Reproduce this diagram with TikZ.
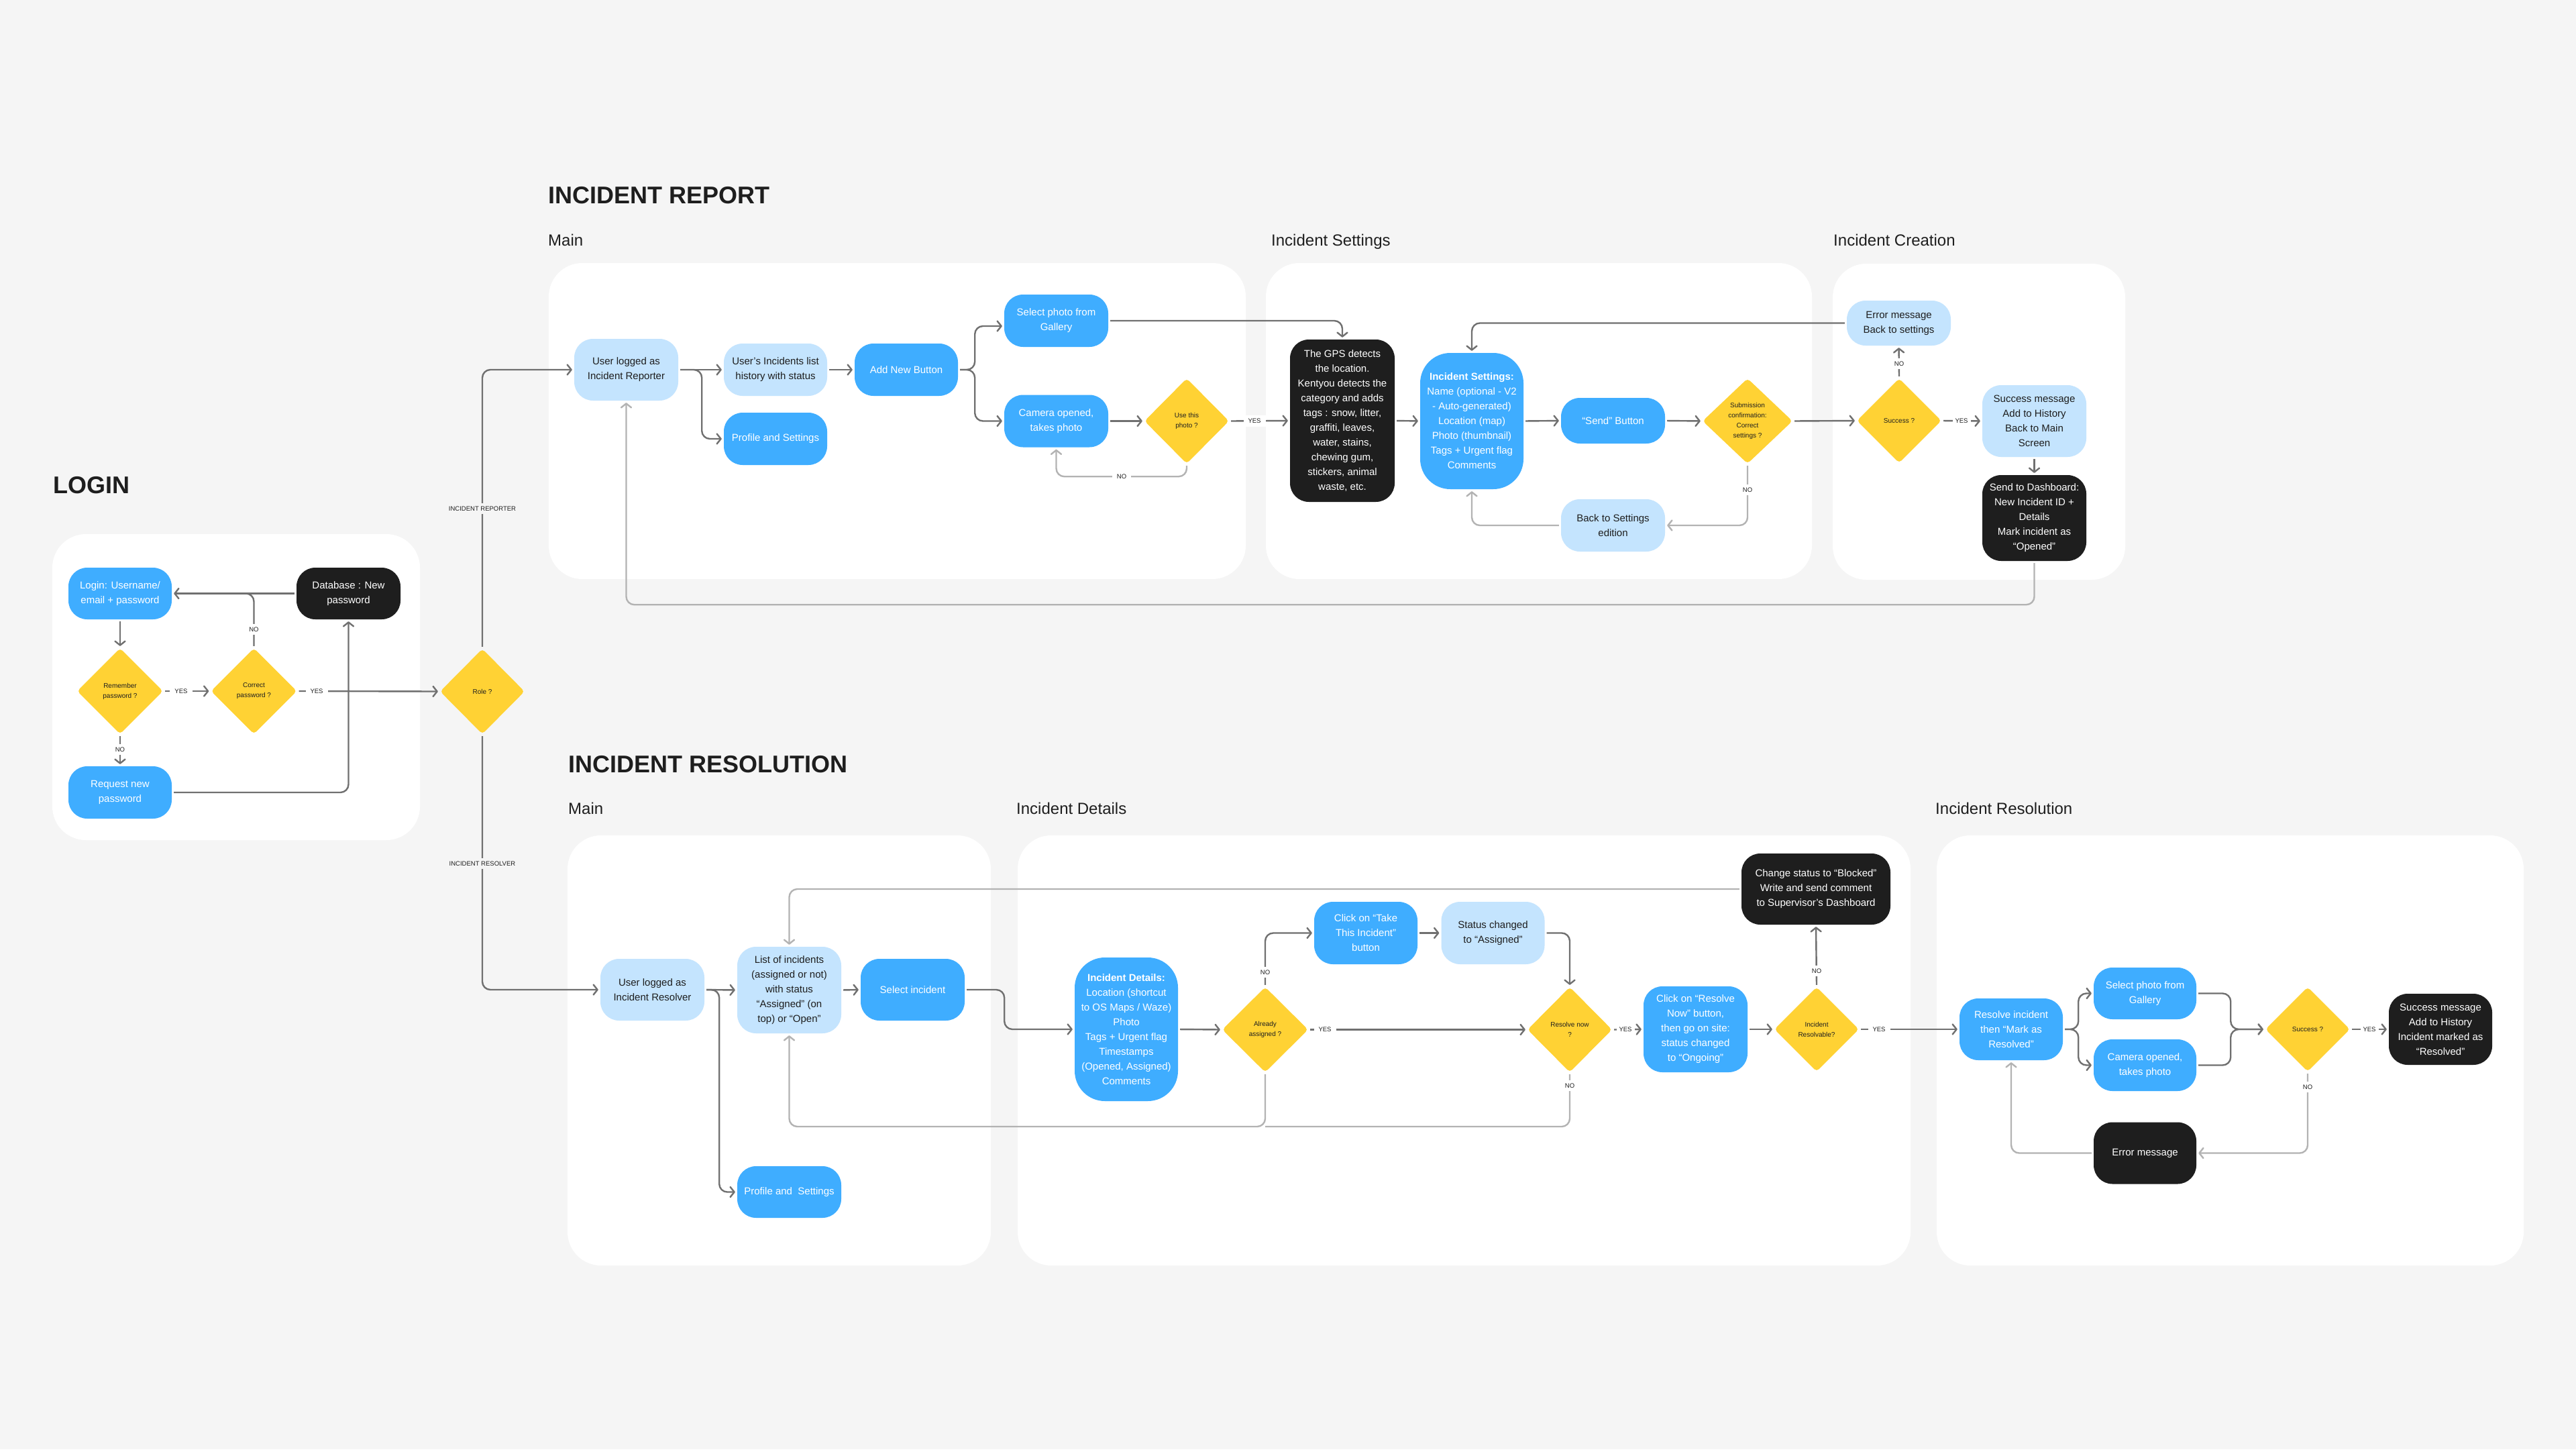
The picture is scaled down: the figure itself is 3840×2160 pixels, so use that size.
\documentclass[tikz,border=0pt]{standalone}
\usepackage{fontspec}
\setmainfont{Liberation Sans}
\usetikzlibrary{arrows.meta,shapes.geometric}
\definecolor{bg}{HTML}{F5F5F5}
\definecolor{cblue}{HTML}{3FADFF}
\definecolor{clight}{HTML}{C4E4FE}
\definecolor{cblack}{HTML}{1E1E1E}
\definecolor{cyellow}{HTML}{FFD234}
\definecolor{cdark}{HTML}{707070}
\definecolor{clite}{HTML}{B3B3B3}
\definecolor{ctext}{HTML}{1E1E1E}
\tikzset{
  box/.style={rounded corners=28pt, minimum width=155pt, minimum height=78pt, align=center, inner sep=3pt, font=\fontsize{15}{22}\selectfont},
  bbox/.style={box, fill=cblue, text=white},
  lbox/.style={box, fill=clight, text=ctext},
  kbox/.style={box, fill=cblack, text=white},
  dec/.style={diamond, fill=cyellow, minimum width=128pt, minimum height=128pt, inner sep=0pt, align=center, text=ctext, font=\fontsize{10}{15}\selectfont, rounded corners=5pt},
  arr/.style={draw=cdark, line width=2.4pt, rounded corners=12pt, -{Straight Barb[length=6pt,width=15pt,round]}, shorten >=3pt, shorten <=3pt},
  arrL/.style={arr, draw=clite},
  ln/.style={draw=cdark, line width=2.4pt, rounded corners=12pt, shorten <=3pt},
  lnL/.style={ln, draw=clite},
  lbl/.style={fill=white, inner xsep=7pt, inner ysep=5pt, text=ctext, font=\fontsize{9.5}{9.5}\selectfont},
  lblb/.style={lbl, fill=bg},
  ttl/.style={anchor=base west, inner sep=0pt, font=\fontsize{36}{36}\selectfont\bfseries, text=ctext},
  subttl/.style={anchor=base west, inner sep=0pt, font=\fontsize{24}{24}\selectfont, text=ctext},
  panel/.style={fill=white, rounded corners=50pt}
}
\begin{document}
\begin{tikzpicture}[x=1pt,y=-1pt]
\useasboundingbox (0,0) rectangle (3840,2160);
\fill[bg] (0,0) rectangle (3840,2160);

% panels
\fill[panel] (78,796) rectangle (626,1252);
\fill[panel] (818,392) rectangle (1857,863);
\fill[panel] (1887,392) rectangle (2701,863);
\fill[panel] (2732,393) rectangle (3168,864);
\fill[panel] (846,1245) rectangle (1477,1886);
\fill[panel] (1517,1245) rectangle (2848,1886);
\fill[panel] (2887,1245) rectangle (3762,1886);

% titles
\node[ttl] (tlogin) at (79,735) {LOGIN};
\node[ttl] (trep) at (817,303) {INCIDENT REPORT};
\node[subttl] (trep1) at (817,366) {Main};
\node[subttl] (trep2) at (1895,366) {Incident Settings};
\node[subttl] (trep3) at (2733,366) {Incident Creation};
\node[ttl] (tres) at (847,1151) {INCIDENT RESOLUTION};
\node[subttl] (tres1) at (847,1213) {Main};
\node[subttl] (tres2) at (1515,1213) {Incident Details};
\node[subttl] (tres3) at (2885,1213) {Incident Resolution};

% LOGIN
\node[bbox, minimum width=154pt, minimum height=77pt] (login) at (179,884.5) {Login: Username/\\email + password};
\node[kbox, minimum height=77pt] (db) at (519.5,884.5) {Database : New\\password};
\node[dec] (rem) at (179,1030) {Remember\\password ?};
\node[dec] (cor) at (378.5,1030) {Correct\\password ?};
\node[bbox, minimum width=154pt] (req) at (179,1181) {Request new\\password};
\node[dec, minimum width=126pt, minimum height=127pt] (role) at (719,1030.5) {Role ?};

% INCIDENT REPORT - Main
\node[lbox, minimum height=92pt] (urep) at (933.5,551) {User logged as\\Incident Reporter};
\node[lbox, minimum width=154pt] (hist) at (1156,551) {User’s Incidents list\\history with status};
\node[bbox, minimum width=154pt] (addb) at (1351,551) {Add New Button};
\node[bbox, minimum width=154pt] (prof1) at (1156,654) {Profile and Settings};
\node[bbox] (gal1) at (1574.5,478) {Select photo from\\Gallery};
\node[bbox] (cam1) at (1574.5,627.5) {Camera opened,\\takes photo};
\node[dec, minimum width=126pt, minimum height=127pt] (use) at (1769,627.5) {Use this\\photo ?};

% Incident Settings
\node[kbox, minimum width=156pt, minimum height=242pt] (gps) at (2001,627) {The GPS detects\\the location.\\Kentyou detects the\\category and adds\\tags : snow, litter,\\graffiti, leaves,\\water, stains,\\chewing gum,\\stickers, animal\\waste, etc.};
\node[bbox, rounded corners=45pt, minimum width=154pt, minimum height=203pt] (iset) at (2194,627.5) {\textbf{Incident Settings:}\\Name (optional - V2\\- Auto-generated)\\Location (map)\\Photo (thumbnail)\\Tags + Urgent flag\\Comments};
\node[bbox, minimum height=68pt] (send) at (2404.5,627) {“Send” Button};
\node[dec, minimum width=134pt, minimum height=127pt] (sub) at (2605,627.5) {Submission\\confirmation:\\Correct\\settings ?};
\node[lbox] (back) at (2404.5,783) {Back to Settings\\edition};

% Incident Creation
\node[lbox, minimum height=67pt] (err1) at (2830.5,481.5) {Error message\\Back to settings};
\node[dec, minimum width=126pt, minimum height=126pt] (succ1) at (2831,627) {Success ?};
\node[lbox, minimum height=107pt] (smsg) at (3032.5,627.5) {Success message\\Add to History\\Back to Main\\Screen};
\node[kbox, minimum height=128pt] (dash) at (3032.5,772) {Send to Dashboard:\\New Incident ID +\\Details\\Mark incident as\\“Opened”};

% INCIDENT RESOLUTION - Main
\node[lbox, minimum height=92pt] (ures) at (972.5,1475) {User logged as\\Incident Resolver};
\node[lbox, minimum height=129pt] (list) at (1176.5,1475.5) {List of incidents\\(assigned or not)\\with status\\“Assigned” (on\\top) or “Open”};
\node[bbox, minimum height=92pt] (sel) at (1360.5,1475) {Select incident};
\node[bbox, minimum height=77pt] (prof2) at (1176.5,1776.5) {Profile and\ \ Settings};

% Incident Details
\node[bbox, rounded corners=45pt, minimum width=154pt, minimum height=214pt] (idet) at (1679,1534) {\textbf{Incident Details:}\\Location (shortcut\\to OS Maps / Waze)\\Photo\\Tags + Urgent flag\\Timestamps\\(Opened, Assigned)\\Comments};
\node[dec, minimum height=127pt] (alr) at (1886,1534.5) {Already\\assigned ?};
\node[bbox, minimum width=154pt, minimum height=93pt] (take) at (2036,1390.5) {Click on “Take\\This Incident”\\button};
\node[lbox, minimum width=154pt, minimum height=93pt] (stat) at (2225.5,1390.5) {Status changed\\to “Assigned”};
\node[dec, minimum width=126pt, minimum height=127pt] (rnow) at (2340,1534.5) {Resolve now\\?};
\node[bbox, minimum height=128pt] (rbtn) at (2527.5,1534) {Click on “Resolve\\Now” button,\\then go on site:\\status changed\\to “Ongoing”};
\node[dec, minimum width=126pt, minimum height=126pt] (resv) at (2708,1534) {Incident\\Resolvable?};
\node[kbox, minimum width=222pt, minimum height=106pt] (blk) at (2707,1325) {Change status to “Blocked”\\Write and send comment\\to Supervisor’s Dashboard};

% Incident Resolution
\node[bbox, minimum width=154pt, minimum height=92pt] (rinc) at (2998,1534) {Resolve incident\\then “Mark as\\Resolved”};
\node[bbox, minimum width=153pt, minimum height=77pt] (gal2) at (3197.5,1480.5) {Select photo from\\Gallery};
\node[bbox, minimum width=153pt, minimum height=77pt] (cam2) at (3197.5,1587.5) {Camera opened,\\takes photo};
\node[dec, minimum width=126pt, minimum height=126pt] (succ2) at (3440,1534) {Success ?};
\node[kbox, minimum width=154pt, minimum height=106pt] (smsg2) at (3638,1534) {Success message\\Add to History\\Incident marked as\\“Resolved”};
\node[kbox, minimum width=153pt, minimum height=92pt] (err2) at (3197.5,1718.5) {Error message};

\coordinate (bl) at (1176.5,1679);

% ---- connectors: LOGIN
\draw[arr] (login.south) -- (rem.north);
\draw[arr] (rem.east) -- (cor.west);
\draw[arr] (cor.east) -- (role.west);
\draw[arr] (db.west) -- (login.east);
\draw[ln] (cor.north) -- (cor.north |- login.east) -- ([xshift=-30pt]cor.north |- login.east);
\draw[arr] (rem.south) -- (req.north);
\draw[arr] (req.east) -| (db.south);
\draw[arr] (role.north) |- (urep.west);
\draw[arr] (role.south) |- (ures.west);

% ---- INCIDENT REPORT
\draw[arr] (urep.east) -- (hist.west);
\draw[arr] (urep.east) -- ([xshift=35pt]urep.east) |- (prof1.west);
\draw[arr] (hist.east) -- (addb.west);
\draw[arr] (addb.east) -- ([xshift=25pt]addb.east) |- ([yshift=-8pt]gal1.west);
\draw[arr] (addb.east) -- ([xshift=25pt]addb.east) |- (cam1.west);
\draw[arr] (cam1.east) -- (use.west);
\draw[arrL] (use.south) -- ([yshift=-19pt]use.south) -| (cam1.south);
\draw[arr] (use.east) -- (gps.west);
\draw[arr] (gal1.east) -| (gps.north);
\draw[arr] (gps.east) -- (iset.west);
\draw[arr] (iset.east) -- (send.west);
\draw[arr] (send.east) -- (sub.west);
\draw[arrL] (sub.south) |- (back.east);
\draw[arrL] (back.west) -| (iset.south);
\draw[arr] (err1.west) -| (iset.north);
\draw[arr] (sub.east) -- (succ1.west);
\draw[arr] (succ1.north) -- (err1.south);
\draw[arr] (succ1.east) -- (smsg.west);
\draw[arr] (smsg.south) -- (dash.north);
\draw[arrL] (dash.south) -- ([yshift=-65pt]dash.south) -| (urep.south);

% ---- INCIDENT RESOLUTION
\draw[arr] (ures.east) -- (list.west);
\draw[arr] (ures.east) -- ([xshift=22pt]ures.east) |- (prof2.west);
\draw[arr] (list.east) -- (sel.west);
\draw[arr] (sel.east) -- ([xshift=59pt]sel.east) |- (idet.west);
\draw[arr] (idet.east) -- (alr.west);
\draw[arr] (alr.north) |- (take.west);
\draw[arr] (take.east) -- (stat.west);
\draw[arr] (stat.east) -| (rnow.north);
\draw[arr] (alr.east) -- (rnow.west);
\draw[arrL] (alr.south) |- (bl) -- (list.south);
\draw[lnL] (rnow.south) |- (alr.south |- bl);
\draw[arr] (rnow.east) -- (rbtn.west);
\draw[arr] (rbtn.east) -- (resv.west);
\draw[arr] (resv.north) -- (blk.south);
\draw[arrL] (blk.west) -| (list.north);
\draw[arr] (resv.east) -- (rinc.west);
\draw[arr] (rinc.east) -- ([xshift=23pt]rinc.east) |- (gal2.west);
\draw[arr] (rinc.east) -- ([xshift=23pt]rinc.east) |- (cam2.west);
\draw[arr] (gal2.east) -- ([xshift=51pt]gal2.east) |- (succ2.west);
\draw[arr] (cam2.east) -- ([xshift=51pt]cam2.east) |- (succ2.west);
\draw[arr] (succ2.east) -- (smsg2.west);
\draw[arrL] (succ2.south) |- (err2.east);
\draw[arrL] (err2.west) -| (rinc.south);

% ---- labels
\node[lbl] (y1) at (270,1030) {YES};
\node[lbl] (y2) at (472,1030) {YES};
\node[lbl] (n1) at (378.5,938) {NO};
\node[lbl] (n2) at (179,1117) {NO};
\node[lblb] (r1) at (719,758) {INCIDENT REPORTER};
\node[lblb] (r2) at (719,1287) {INCIDENT RESOLVER};
\node[lbl] (n3) at (1672,710) {NO};
\node[lbl] (y3) at (1870,627.5) {YES};
\node[lbl] (n4) at (2605,730) {NO};
\node[lbl] (n5) at (2831,542) {NO};
\node[lbl, inner xsep=4pt] (y4) at (2924,627) {YES};
\node[lbl] (n6) at (1886,1449) {NO};
\node[lbl] (y5) at (1975,1534.5) {YES};
\node[lbl] (n7) at (2340,1618) {NO};
\node[lbl, inner xsep=4pt] (y6) at (2423,1534.5) {YES};
\node[lbl] (n8) at (2708,1447) {NO};
\node[lbl] (y7) at (2801,1534) {YES};
\node[lbl, inner xsep=4pt] (y8) at (3532,1534) {YES};
\node[lbl] (n9) at (3440,1620) {NO};
\end{tikzpicture}
\end{document}
